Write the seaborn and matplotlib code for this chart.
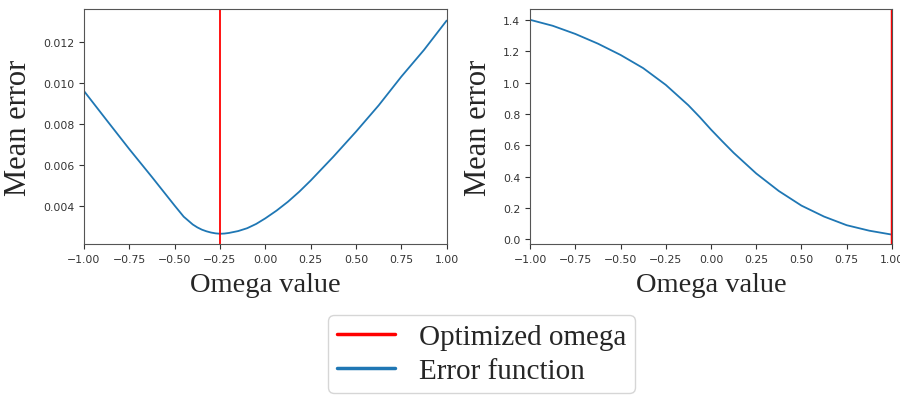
import numpy as np
import pandas as pd
import matplotlib
matplotlib.use("Agg")
import matplotlib.pyplot as plt
import seaborn as sns
from matplotlib.lines import Line2D

# Data
omega_left = [-1.0, -0.875, -0.75, -0.625, -0.5, -0.45, -0.4, -0.375, -0.35, -0.325,
              -0.3, -0.275, -0.25, -0.225, -0.2, -0.15, -0.1, -0.05, 0.0, 0.0625,
              0.125, 0.1875, 0.25, 0.375, 0.5, 0.625, 0.75, 0.875, 1.0]
error_left = [0.0096, 0.00818, 0.00677, 0.00541, 0.00402, 0.00348, 0.00310, 0.00296,
              0.00285, 0.00277, 0.00271, 0.00267, 0.00265, 0.00266, 0.00269, 0.00278,
              0.00292, 0.00313, 0.00340, 0.00378, 0.00421, 0.00470, 0.00524, 0.0064,
              0.00762, 0.0089, 0.0103, 0.0116, 0.01303]
optimized_left = -0.25

omega_right = [-1.0, -0.875, -0.75, -0.625, -0.5, -0.375, -0.25, -0.125, -0.0625, 0.0,
               0.0625, 0.125, 0.25, 0.375, 0.5, 0.625, 0.75, 0.875, 1.0]
error_right = [1.40, 1.362, 1.31, 1.248, 1.176, 1.092, 0.985, 0.855, 0.78, 0.70,
               0.625, 0.552, 0.42, 0.308, 0.215, 0.145, 0.09, 0.055, 0.03]
optimized_right = 1.0

left_yticks = [0.004, 0.006, 0.008, 0.010, 0.012]
right_yticks = [0.0, 0.2, 0.4, 0.6, 0.8, 1.0, 1.2, 1.4]
xticks = [-1.0, -0.75, -0.5, -0.25, 0.0, 0.25, 0.5, 0.75, 1.0]

sns.set_style("white")
plt.rcParams['font.family'] = ['DejaVu Sans']

BLUE = "#1f77b4"
RED = "#ff0000"

fig = plt.figure(figsize=(9, 4.02), dpi=100)
ax1 = fig.add_axes([0.0933, 0.3905, 0.403, 0.585])
ax2 = fig.add_axes([0.589, 0.3905, 0.402, 0.585])

xlabel_font = dict(family=["Liberation Serif"], size=20.5)
ylabel_font = dict(family=["Liberation Serif"], size=22)

def style(ax, yticks, ylim, ytickfmt):
    ax.set_xlim(-1, 1)
    ax.set_ylim(*ylim)
    ax.set_xticks(xticks)
    ax.set_xticklabels([f"{t:.2f}".replace("-", "\u2212") for t in xticks])
    ax.set_yticks(yticks)
    ax.set_yticklabels([ytickfmt.format(t) for t in yticks])
    ax.tick_params(axis="both", labelsize=7.8, colors="#333333", length=3.5,
                   width=0.8, direction="out", bottom=True, left=True)
    for s in ax.spines.values():
        s.set_color("#555555")
        s.set_linewidth(0.8)
    ax.set_xlabel("Omega value", fontdict=xlabel_font, labelpad=6)
    ax.set_ylabel("Mean error", fontdict=ylabel_font, labelpad=7)

df1 = pd.DataFrame({"omega": omega_left, "error": error_left})
sns.lineplot(data=df1, x="omega", y="error", ax=ax1, color=BLUE, linewidth=1.3)
ax1.axvline(optimized_left, color=RED, linewidth=1.3)
style(ax1, left_yticks, (0.00215, 0.0136), "{:.3f}")

df2 = pd.DataFrame({"omega": omega_right, "error": error_right})
sns.lineplot(data=df2, x="omega", y="error", ax=ax2, color=BLUE, linewidth=1.3)
ax2.axvline(optimized_right, color=RED, linewidth=2.5)
style(ax2, right_yticks, (-0.03, 1.47), "{:.1f}")

handles = [Line2D([], [], color=RED, linewidth=2.5),
           Line2D([], [], color=BLUE, linewidth=2.5)]
leg = fig.legend(handles, ["Optimized omega", "Error function"],
                 loc="center", bbox_to_anchor=(0.535, 0.117),
                 prop={"family": "Liberation Serif", "size": 21},
                 frameon=True, handlelength=2.0, labelspacing=0.25,
                 borderpad=0.3, handletextpad=0.8, borderaxespad=0)
leg.get_frame().set_edgecolor("#cccccc")

fig.savefig("out.png", dpi=100)
